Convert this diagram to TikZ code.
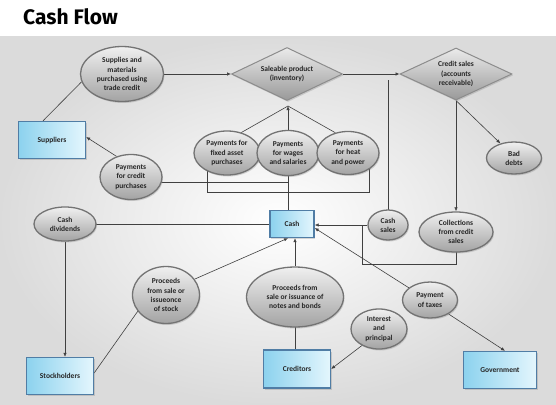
\documentclass[tikz,border=0pt]{standalone}
\usepackage{fontspec}
\setmainfont{Carlito}
\newfontfamily\titlefont{Fira Sans}
\usetikzlibrary{shapes.geometric,arrows.meta,shadows,calc}
\pgfdeclarelayer{bg}
\pgfdeclarelayer{lines}
\pgfsetlayers{bg,lines,main}
\definecolor{boxL}{RGB}{140,210,238}
\definecolor{boxR}{RGB}{228,246,253}
\definecolor{boxD}{RGB}{80,125,165}
\begin{document}
\begin{tikzpicture}[x=1pt,y=-1pt,
  lbl/.style={font=\fontsize{7.5}{9.2}\selectfont\bfseries, text=black!85, align=center, inner sep=0pt},
  oval/.style={lbl, ellipse, inner xsep=-4pt, draw=black!55, line width=1.3pt, top color=black!6, bottom color=black!36,
    drop shadow={opacity=0.3, shadow xshift=1pt, shadow yshift=-1.5pt}},
  dia/.style={lbl, diamond, aspect=2.1, draw=black!45, line width=1pt, top color=black!8, bottom color=black!40,
    drop shadow={opacity=0.3, shadow xshift=1pt, shadow yshift=-1.5pt}},
  box/.style={lbl, rectangle, draw=boxD, line width=1.3pt, left color=boxL, right color=boxR,
    drop shadow={opacity=0.3, shadow xshift=1pt, shadow yshift=-1.5pt}},
  conn/.style={draw=black!75, line width=0.6pt},
  arr/.style={conn, -{Latex[length=4pt,width=3.4pt]}},
]
\useasboundingbox (0,0) rectangle (556,404);
\begin{pgfonlayer}{bg}
  \fill[white] (0,0) rectangle (556,404);
  \shade[inner color=white, outer color=black!14] (0,37) rectangle (556,404);
\end{pgfonlayer}

\node[anchor=base west, inner sep=0pt, font=\titlefont\bfseries\fontsize{21}{24}\selectfont] (title) at (23,25) {Cash Flow};

% nodes
\node[oval, minimum width=83pt, minimum height=55pt] (sup) at (122,74) {Supplies and\\materials\\purchased using\\trade credit};
\node[dia, minimum width=111pt, minimum height=53pt] (sal) at (287,74) {Saleable product\\(inventory)};
\node[dia, minimum width=112pt, minimum height=52pt] (cre) at (456,74) {Credit sales\\(accounts\\receivable)};
\node[box, minimum width=67pt, minimum height=37pt] (spl) at (52,140) {Suppliers};
\node[oval, minimum width=62pt, minimum height=45pt] (pcp) at (131,177) {Payments\\for credit\\purchases};
\node[oval, minimum width=66pt, minimum height=44pt] (pfa) at (227,153) {Payments for\\fixed asset\\purchases};
\node[oval, minimum width=62pt, minimum height=45pt] (pws) at (288,153) {Payments\\for wages\\and salaries};
\node[oval, minimum width=62pt, minimum height=43pt] (pwh) at (348,153) {Payments\\for heat\\and power};
\node[oval, minimum width=55pt, minimum height=32pt] (bad) at (514,158) {Bad\\debts};
\node[box, minimum width=44pt, minimum height=27pt] (cash) at (292,224) {Cash};
\node[oval, minimum width=40pt, minimum height=30pt] (cs) at (388,225) {Cash\\sales};
\node[oval, minimum width=74pt, minimum height=40pt] (col) at (456,232) {Collections\\from credit\\sales};
\node[oval, minimum width=62pt, minimum height=34pt] (cd) at (65,224) {Cash\\dividends};
\node[oval, minimum width=67pt, minimum height=57pt] (ps) at (166,295) {Proceeds\\from sale or\\issueonce\\of stock};
\node[oval, minimum width=97pt, minimum height=60pt] (pn) at (295,297) {Proceeds from\\sale or issuance of\\notes and bonds};
\node[oval, minimum width=56pt, minimum height=40pt] (ip) at (379,329) {Interest\\and\\principal};
\node[oval, minimum width=55pt, minimum height=36pt] (pt) at (430,300) {Payment\\of taxes};
\node[box, minimum width=67pt, minimum height=37pt] (sh) at (60,376) {Stockholders};
\node[box, minimum width=67pt, minimum height=38pt] (cr) at (297,369) {Creditors};
\node[box, minimum width=73pt, minimum height=37pt] (gov) at (500,370) {Government};

\coordinate (top) at (288,106);
\coordinate (b1) at (207,192);
\coordinate (b2) at (369,192);
\coordinate (j1) at (131,182);
\coordinate (cst) at (388,80);
\coordinate (b3) at (362,264);

\begin{pgfonlayer}{lines}
  \draw[conn] ([xshift=-9pt]spl.north) -- (sup.191);
  \draw[arr] (sup.east) -- (sal.west);
  \draw[arr] (sal.east) -- (cre.west);
  \draw[arr] (pcp.125) -- ([yshift=3pt]spl.east);
  \draw[conn] (pfa.55) -- (top);
  \draw[conn] (pwh.122) -- (top);
  \draw[arr] (pws.north) -- (top);
  \draw[conn] (b1 |- pfa.center) -- (b1) -- (b2) -- (b2 |- pwh.center);
  \draw[conn] (j1) -- (j1 -| pws.center);
  \draw[conn] (pws.center) -- (pws.center |- cash.north);
  \draw[conn] (cd.center) -- (cash.west);
  \draw[arr] (cd.south) -- (cd.south |- sh.north);
  \draw[conn] ([yshift=3pt]sh.east) -- (ps.210);
  \draw[arr] (ps.29) -- ([xshift=-4pt]cash.south);
  \draw[arr] (pn.north) -- (pn.north |- cash.south);
  \draw[conn] (pn.center) -- (pn.center |- cr.north);
  \draw[arr] (ip.224) -- (cr.east);
  \draw[arr] (pt.323) -- ([xshift=5pt]gov.north);
  \draw[arr] (pt.150) -- ([yshift=-4pt]cash.east);
  \draw[arr] (cs.west) -- (cs.west -| cash.east);
  \draw[conn] (cs.center) -- (cst);
  \draw[arr] (cre.south) -- (bad.133);
  \draw[arr] (cre.south) -- (col.north);
  \draw[conn] (col.center) |- (b3) -- (b3 |- cs.west);
\end{pgfonlayer}
\end{tikzpicture}
\end{document}
